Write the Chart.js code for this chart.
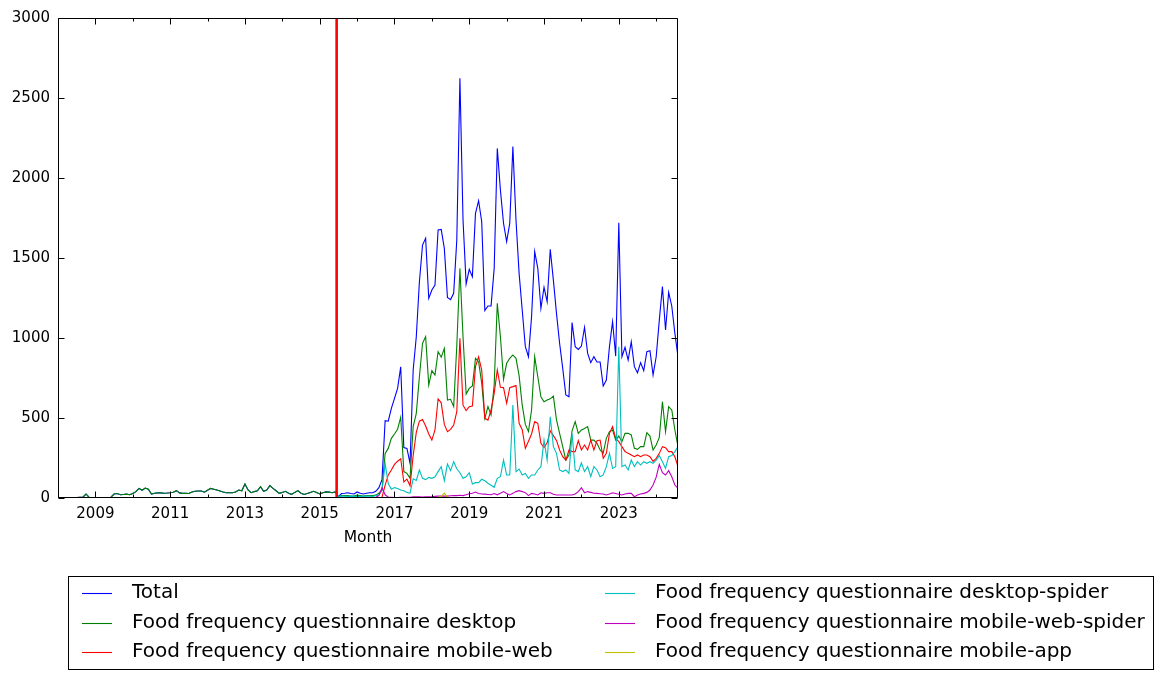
<!DOCTYPE html>
<html>
<head>
<meta charset="utf-8">
<script src="https://cdn.jsdelivr.net/npm/chart.js@4.4.1/dist/chart.umd.min.js"></script>
<style>
  html, body { margin: 0; padding: 0; background: #ffffff; }
  #wrap { position: relative; width: 1163px; height: 679px; }
</style>
</head>
<body>
<div id="wrap"><canvas id="c" width="1163" height="679"></canvas></div>
<script>
// ---------------- DATA ----------------
// Months: 2008-01 ... 2024-08 (200 monthly points)
const firstYear = 2008;
const monthCount = 200;
const months = [];
for (let i = 0; i < monthCount; i++) {
  const y = firstYear + Math.floor(i / 12), m = (i % 12) + 1;
  months.push(y + '-' + String(m).padStart(2, '0'));
}

// Old statistics (2008-01 .. 2015-06): desktop only (Total equals desktop)
const desktopBefore2015 = [
  3, 2, 3, 2, 3, 2, 3, 4, 5, 25, 4, 3,
  2, 3, 2, 3, 2, 5, 25, 28, 20, 22, 24, 20,
  28, 40, 60, 48, 62, 55, 25, 30, 33, 32, 30, 31,
  33, 36, 46, 32, 29, 30, 28, 37, 42, 44, 44, 36,
  48, 60, 55, 50, 44, 38, 33, 33, 33, 38, 50, 45,
  87, 50, 33, 40, 45, 71, 42, 50, 77, 60, 45, 29,
  35, 42, 30, 23, 35, 46, 30, 22, 28, 35, 42, 35,
  25, 33, 38, 37, 33, 38
];
// Other access types had no views before 2015-07
const otherBefore2015 = [
  0,0,0,0,0,0,0,0,0,0,0,0, 0,0,0,0,0,0,0,0,0,0,0,0,
  0,0,0,0,0,0,0,0,0,0,0,0, 0,0,0,0,0,0,0,0,0,0,0,0,
  0,0,0,0,0,0,0,0,0,0,0,0, 0,0,0,0,0,0,0,0,0,0,0,0,
  0,0,0,0,0,0,0,0,0,0,0,0, 0,0,0,0,0,0
];

// Pageviews 2015-07 .. 2024-08 (110 months)
const totalFrom2015 = [
  8, 28, 30, 33, 28, 25, 38, 30, 25, 30, 33, 33, 42, 65, 115,
  483, 480, 560, 623, 685, 820, 315, 310, 216, 800, 1008, 1352, 1581, 1623, 1248,
  1300, 1331, 1675, 1679, 1560, 1254, 1240, 1279, 1612, 2623, 1737, 1337, 1429, 1383, 1779,
  1858, 1727, 1171, 1200, 1200, 1435, 2185, 1925, 1717, 1602, 1717, 2196, 1737, 1404, 1175,
  946, 883, 1133, 1540, 1435, 1185, 1317, 1227, 1554, 1362, 1154, 967, 810, 644, 633,
  1096, 946, 929, 950, 1067, 904, 846, 883, 850, 850, 700, 737, 946, 1102, 887,
  1721, 883, 942, 862, 977, 821, 783, 846, 796, 915, 920, 769, 883, 1112, 1321,
  1050, 1285, 1200, 1029, 883
];
const desktopFrom2015 = [
  6, 15, 15, 15, 12, 12, 18, 15, 12, 15, 15, 15, 18, 30, 50,
  279, 310, 373, 400, 430, 505, 165, 154, 123, 446, 529, 758, 967, 1008, 706,
  796, 769, 915, 880, 935, 612, 617, 571, 950, 1435, 1008, 650, 685, 700, 873,
  852, 717, 498, 571, 519, 706, 1217, 1008, 742, 842, 873, 894, 873, 765, 580,
  460, 415, 550, 883, 758, 633, 602, 612, 620, 637, 488, 404, 321, 237, 269,
  420, 477, 404, 425, 435, 446, 362, 362, 342, 300, 281, 373, 415, 425, 362,
  387, 352, 404, 404, 394, 310, 304, 321, 321, 408, 387, 300, 331, 379, 602,
  415, 571, 550, 425, 321
];
const mobileWebFrom2015 = [
  1, 2, 2, 2, 2, 2, 2, 2, 2, 2, 2, 2, 3, 3, 5,
  81, 144, 175, 210, 230, 245, 100, 118, 76, 265, 410, 480, 490, 450, 400,
  362, 425, 620, 595, 460, 415, 429, 456, 540, 998, 580, 546, 571, 575, 821,
  883, 800, 498, 487, 550, 654, 800, 692, 690, 592, 690, 696, 703, 467, 427,
  310, 355, 400, 477, 467, 342, 315, 345, 420, 390, 360, 300, 258, 237, 300,
  290, 290, 358, 300, 331, 300, 362, 300, 358, 362, 248, 279, 404, 446, 373,
  352, 321, 290, 279, 269, 258, 269, 258, 269, 269, 258, 229, 248, 279, 321,
  315, 290, 290, 258, 196
];
const desktopSpiderFrom2015 = [
  10, 12, 12, 10, 12, 10, 12, 10, 10, 12, 12, 10, 15, 20, 45,
  215, 90, 55, 65, 60, 50, 45, 35, 30, 120, 110, 175, 123, 115, 129,
  123, 133, 165, 196, 108, 212, 171, 227, 183, 158, 123, 133, 158, 88, 96,
  96, 117, 108, 92, 80, 67, 123, 133, 237, 144, 144, 581, 165, 181, 144,
  154, 123, 144, 144, 175, 196, 362, 237, 508, 321, 279, 175, 165, 175, 154,
  404, 175, 165, 219, 165, 196, 133, 196, 175, 133, 144, 196, 279, 185, 196,
  946, 196, 206, 175, 237, 196, 227, 206, 227, 217, 227, 217, 237, 265, 227,
  185, 258, 265, 290, 321
];
const mobileWebSpiderFrom2015 = [
  2, 2, 2, 2, 2, 2, 2, 2, 2, 2, 2, 3, 5, 15, 65,
  20, 5, 5, 3, 3, 5, 5, 5, 5, 8, 8, 8, 6, 8, 8,
  8, 10, 12, 12, 12, 12, 14, 15, 15, 17, 15, 20, 27, 30, 37,
  28, 25, 24, 22, 20, 28, 20, 30, 40, 28, 19, 29, 40, 46, 40,
  33, 15, 29, 25, 19, 33, 29, 33, 33, 23, 19, 19, 19, 19, 19,
  19, 25, 40, 65, 33, 40, 35, 30, 29, 27, 25, 19, 25, 33, 28,
  23, 19, 25, 29, 29, 8, 19, 25, 29, 35, 50, 81, 130, 210, 158,
  144, 171, 133, 81, 60
];
const mobileAppFrom2015 = [
  1, 1, 1, 1, 1, 1, 1, 1, 1, 1, 1, 1, 1, 1, 1,
  1, 1, 1, 1, 1, 1, 1, 1, 1, 1, 1, 1, 1, 1, 1,
  1, 2, 5, 10, 30, 5, 2, 2, 2, 2, 2, 2, 2, 2, 2,
  2, 2, 2, 2, 2, 2, 2, 2, 2, 2, 2, 2, 2, 2, 2,
  2, 2, 2, 2, 2, 2, 2, 2, 2, 2, 2, 2, 2, 2, 2,
  2, 2, 2, 2, 2, 2, 2, 2, 2, 2, 2, 2, 2, 2, 2,
  2, 2, 2, 2, 2, 2, 2, 2, 2, 2, 2, 2, 2, 2, 2,
  2, 2, 2, 2, 2
];

const seriesNames = [
  'Total',
  'Food frequency questionnaire desktop',
  'Food frequency questionnaire mobile-web',
  'Food frequency questionnaire desktop-spider',
  'Food frequency questionnaire mobile-web-spider',
  'Food frequency questionnaire mobile-app'
];
const seriesColors = ['#0000ff', '#008000', '#ff0000', '#00bfbf', '#bf00bf', '#bfbf00'];
const yTickValues = [0, 500, 1000, 1500, 2000, 2500, 3000];
const xTickYears = [2009, 2011, 2013, 2015, 2017, 2019, 2021, 2023];
const xMinorYears = [2008, 2010, 2012, 2014, 2016, 2018, 2020, 2022, 2024];
const switchDate = '2015-06-14';   // red vertical marker
const xLabel = 'Month';

// ---------------- BUILD ----------------
function monthToX(label) {
  const p = label.split('-').map(Number);
  const day = p.length > 2 ? p[2] - 1 : 0;
  return p[0] + (p[1] - 1 + day / 30) / 12;
}
const seriesValues = [
  desktopBefore2015.concat(totalFrom2015),
  desktopBefore2015.concat(desktopFrom2015),
  otherBefore2015.concat(mobileWebFrom2015),
  otherBefore2015.concat(desktopSpiderFrom2015),
  otherBefore2015.concat(mobileWebSpiderFrom2015),
  otherBefore2015.concat(mobileAppFrom2015)
];
const xValues = months.map(monthToX);
const datasets = seriesValues.map((vals, i) => ({
  label: seriesNames[i],
  data: vals.map((v, k) => ({ x: xValues[k], y: v })),
  borderColor: seriesColors[i],
  backgroundColor: seriesColors[i],
  borderWidth: 1.1,
  pointRadius: 0,
  tension: 0,
  fill: false,
  order: seriesNames.length - i + 1
}));
const switchX = monthToX(switchDate);
datasets.push({
  label: 'switch',
  data: [{ x: switchX, y: yTickValues[0] }, { x: switchX, y: yTickValues[yTickValues.length - 1] }],
  borderColor: '#ff0000',
  borderWidth: 2.6,
  pointRadius: 0,
  fill: false,
  order: 0
});

const FONT = 'DejaVu Sans';

const framePlugin = {
  id: 'frame',
  afterDatasetsDraw(chart) {
    const { ctx, chartArea: a, scales: { x, y } } = chart;
    ctx.save();
    ctx.strokeStyle = '#000';
    ctx.lineWidth = 1;
    const L = Math.round(a.left) + 0.5, R = Math.round(a.right) - 0.5;
    const T = Math.round(a.top) + 0.5, B = Math.round(a.bottom) - 0.5;
    ctx.beginPath();
    // box
    ctx.rect(L, T, R - L, B - T);
    // y ticks (left & right, inward)
    yTickValues.forEach(v => {
      const py = Math.round(y.getPixelForValue(v)) + 0.5;
      ctx.moveTo(L, py); ctx.lineTo(L + 6, py);
      ctx.moveTo(R, py); ctx.lineTo(R - 6, py);
    });
    // x ticks (bottom & top, inward)
    xTickYears.forEach(v => {
      const px = Math.round(x.getPixelForValue(v)) + 0.5;
      ctx.moveTo(px, B); ctx.lineTo(px, B - 6);
      ctx.moveTo(px, T); ctx.lineTo(px, T + 6);
    });
    xMinorYears.forEach(v => {
      if (v < x.min || v > x.max) return;
      const px = Math.round(x.getPixelForValue(v)) + 0.5;
      ctx.moveTo(px, B); ctx.lineTo(px, B - 3);
      ctx.moveTo(px, T); ctx.lineTo(px, T + 3);
    });
    ctx.stroke();
    ctx.restore();
  },
  afterDraw(chart) {
    const { ctx } = chart;
    ctx.save();
    // legend box
    ctx.strokeStyle = '#000';
    ctx.lineWidth = 1;
    ctx.strokeRect(68.5, 576.5, 1085, 93);
    ctx.font = '20px "' + FONT + '"';
    ctx.textBaseline = 'middle';
    ctx.fillStyle = '#000';
    const rows = [593, 622.5, 651.5];
    const cols = [{ l: 82, t: 132 }, { l: 605, t: 655 }];
    seriesNames.forEach((name, i) => {
      const c = cols[Math.floor(i / 3)];
      const ry = rows[i % 3];
      ctx.strokeStyle = seriesColors[i];
      ctx.lineWidth = 1.1;
      ctx.beginPath();
      ctx.moveTo(c.l, Math.round(ry) + 0.5);
      ctx.lineTo(c.l + 30, Math.round(ry) + 0.5);
      ctx.stroke();
      ctx.fillText(name, c.t, ry);
    });
    ctx.restore();
  }
};

new Chart(document.getElementById('c'), {
  type: 'line',
  data: { datasets },
  plugins: [framePlugin],
  options: {
    responsive: false,
    animation: false,
    devicePixelRatio: 1,
    events: [],
    layout: { padding: { left: 0, right: 485, top: 18, bottom: 121 } },
    plugins: { legend: { display: false }, tooltip: { enabled: false } },
    scales: {
      x: {
        type: 'linear',
        min: monthToX(months[0]),
        max: monthToX(months[months.length - 1]),
        grid: { display: false, drawTicks: false },
        border: { display: false },
        afterBuildTicks: s => { s.ticks = xTickYears.map(v => ({ value: v })); },
        afterFit: s => { s.height = 60; },
        ticks: {
          autoSkip: false, maxRotation: 0, padding: 7, color: '#000',
          font: { family: FONT, size: 15 },
          callback: v => String(v)
        },
        title: {
          display: true, text: xLabel, color: '#000',
          font: { family: FONT, size: 15.5 }, padding: { top: 0, bottom: 11 }
        }
      },
      y: {
        type: 'linear',
        min: yTickValues[0],
        max: yTickValues[yTickValues.length - 1],
        grid: { display: false, drawTicks: false },
        border: { display: false },
        afterBuildTicks: s => { s.ticks = yTickValues.map(v => ({ value: v })); },
        afterFit: s => { s.width = 58; },
        ticks: {
          padding: 8, color: '#000',
          font: { family: FONT, size: 15 },
          callback: v => String(v)
        }
      }
    }
  }
});
</script>
</body>
</html>
